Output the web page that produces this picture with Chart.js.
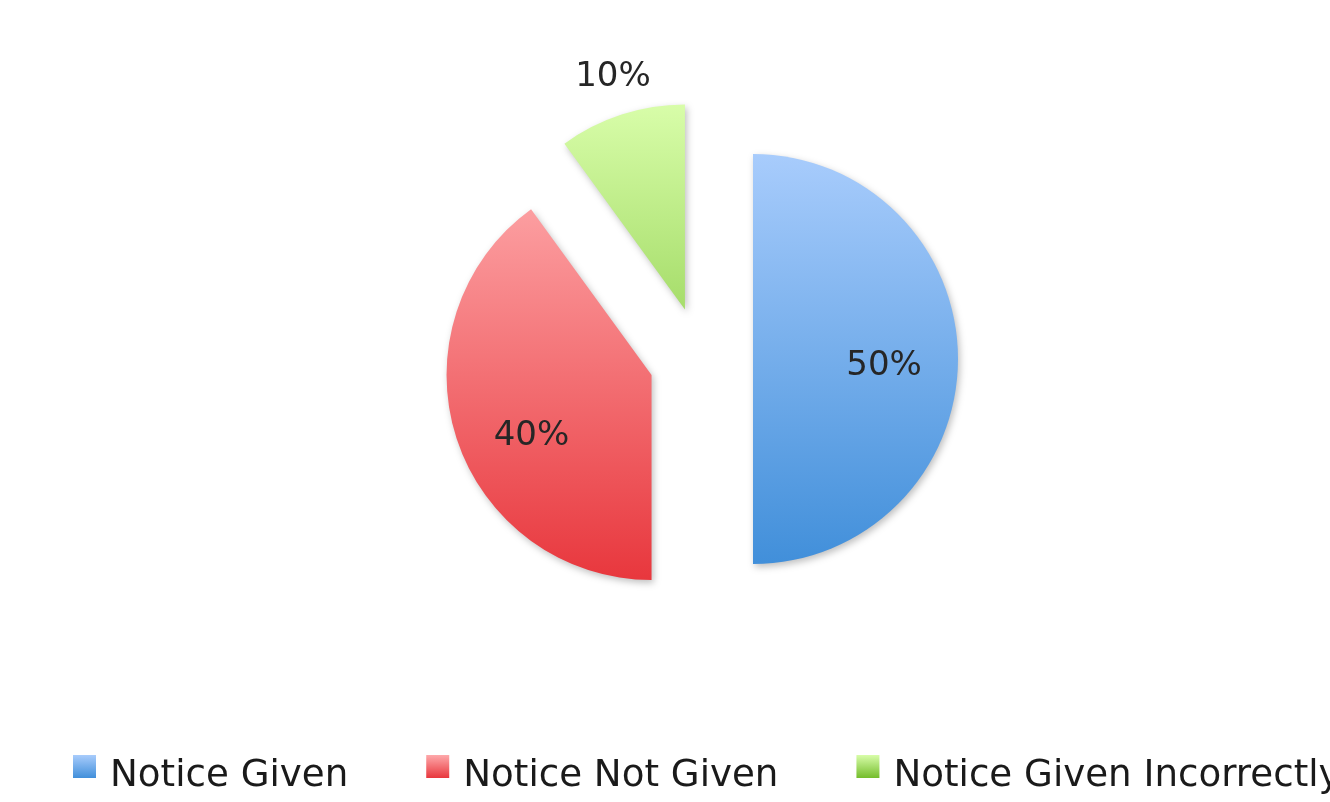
<!DOCTYPE html>
<html>
<head>
<meta charset="utf-8">
<script src="https://cdn.jsdelivr.net/npm/chart.js@4.4.1/dist/chart.umd.min.js"></script>
<style>
  html, body { margin: 0; padding: 0; background: #fff; overflow: hidden; }
  canvas { display: block; }
</style>
</head>
<body>
<canvas id="pieChart" width="1330" height="802"></canvas>
<script>
// Chart data
const labels = ['Notice Given', 'Notice Not Given', 'Notice Given Incorrectly'];
const values = [50, 40, 10];
const percentLabels = ['50%', '40%', '10%'];

// Styling (gradient top / bottom per slice)
const topColors = ['#a8ccfc', '#fea9ab', '#d8fda9'];
const bottomColors = ['#418fda', '#e8373d', '#74bd2c'];
const explode = 52;          // px each slice is pulled out along its mid angle
const pieRadius = 205;
const labelFactors = [0.64, 0.652, 1.2]; // label distance as fraction of radius
const labelTurn = [2, -8, 1];            // small angle nudge for labels, degrees
const textFont = "'DejaVu Sans', Verdana, sans-serif";

// vertical gradient, in un-exploded coordinates (the slice is translated later)
function sliceGradient(context) {
    const chart = context.chart;
    const area = chart.chartArea;
    const i = context.dataIndex;
    if (!area) return topColors[i];
    const cy = (area.top + area.bottom) / 2;
    const g = chart.ctx.createLinearGradient(0, cy - pieRadius, 0, cy + pieRadius);
    g.addColorStop(0, topColors[i]);
    g.addColorStop(1, bottomColors[i]);
    return g;
}

// pull every slice out without the angle trimming chart.js applies to `offset`
const explodeSlices = {
    id: 'explodeSlices',
    afterDatasetsUpdate(chart) {
        chart.getDatasetMeta(0).data.forEach(arc => {
            if (arc._exploded) return;
            arc._exploded = true;
            arc.draw = function (ctx, area) {
                const mid = (this.startAngle + this.endAngle) / 2;
                ctx.save();
                ctx.translate(Math.cos(mid) * explode, Math.sin(mid) * explode);
                Chart.ArcElement.prototype.draw.call(this, ctx, area);
                ctx.restore();
            };
        });
    }
};

// shadow + percent labels
const sliceDecor = {
    id: 'sliceDecor',
    beforeDatasetsDraw(chart) {
        const ctx = chart.ctx;
        ctx.save();
        ctx.shadowColor = 'rgba(0,0,0,0.25)';
        ctx.shadowBlur = 7;
        ctx.shadowOffsetX = 2;
        ctx.shadowOffsetY = 3;
    },
    afterDatasetsDraw(chart) {
        const ctx = chart.ctx;
        ctx.restore();
        const meta = chart.getDatasetMeta(0);
        ctx.save();
        ctx.font = '34px ' + textFont;
        ctx.fillStyle = '#262626';
        ctx.textAlign = 'center';
        ctx.textBaseline = 'middle';
        meta.data.forEach((arc, i) => {
            const mid = (arc.startAngle + arc.endAngle) / 2;
            const cx = arc.x + Math.cos(mid) * explode;
            const cy = arc.y + Math.sin(mid) * explode;
            const a = mid + labelTurn[i] * Math.PI / 180;
            const d = arc.outerRadius * labelFactors[i];
            ctx.fillText(percentLabels[i], cx + Math.cos(a) * d, cy + Math.sin(a) * d + 3);
        });
        ctx.restore();
    }
};

// bottom legend, runs off the right edge like the original
const bottomLegend = {
    id: 'bottomLegend',
    afterDraw(chart) {
        const ctx = chart.ctx;
        ctx.save();
        ctx.font = '37.2px ' + textFont;
        ctx.textBaseline = 'alphabetic';
        let x = 73;
        const boxTop = 755, boxSize = 23;
        labels.forEach((label, i) => {
            const g = ctx.createLinearGradient(0, boxTop, 0, boxTop + boxSize);
            g.addColorStop(0, topColors[i]);
            g.addColorStop(1, bottomColors[i]);
            ctx.fillStyle = g;
            ctx.fillRect(x, boxTop, boxSize, boxSize);
            ctx.fillStyle = '#1a1a1a';
            const tx = x + 37;
            ctx.fillText(label, tx, 786);
            x = tx + ctx.measureText(label).width + 78;
        });
        ctx.restore();
    }
};

const config = {
    type: 'pie',
    data: {
        labels: labels,
        datasets: [{
            data: values,
            backgroundColor: sliceGradient,
            borderWidth: 0,
            offset: 0,
            hoverOffset: 0,
            radius: pieRadius
        }]
    },
    options: {
        responsive: false,
        animation: false,
        layout: { padding: { left: 72, right: 0, top: 0, bottom: 84 } },
        plugins: {
            legend: { display: false },
            tooltip: { enabled: false }
        }
    },
    plugins: [explodeSlices, sliceDecor, bottomLegend]
};

new Chart(document.getElementById('pieChart'), config);
</script>
</body>
</html>
